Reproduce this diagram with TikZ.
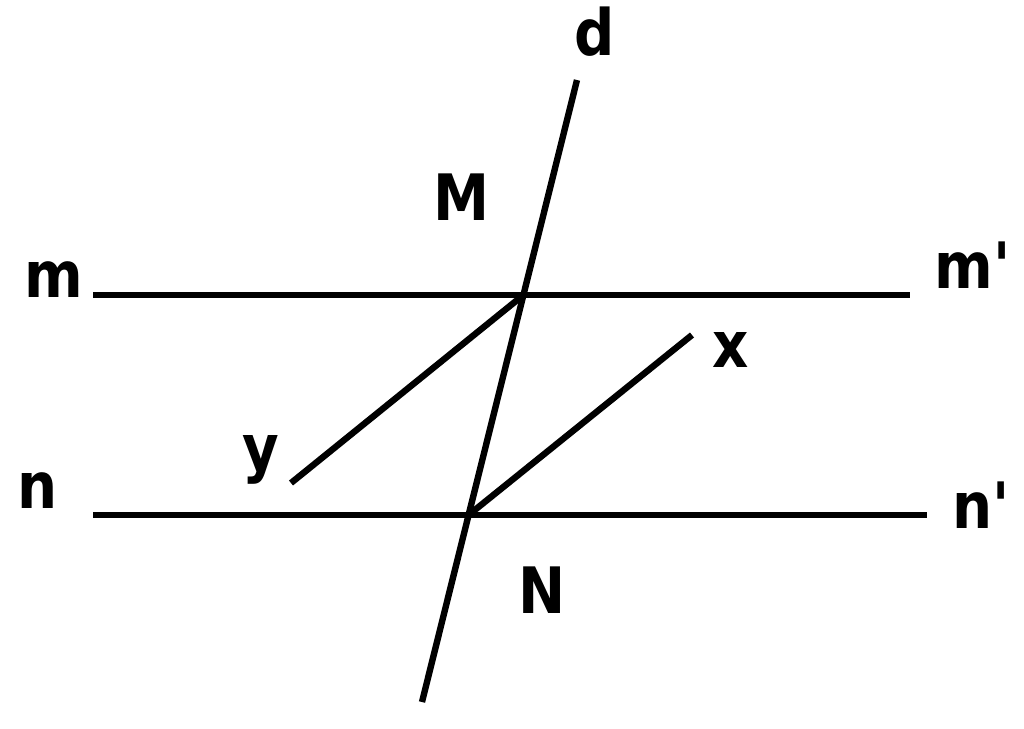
\documentclass[tikz,border=0pt]{standalone}
\usepackage{fontspec}
\setmainfont{DejaVu Sans}[FakeStretch=0.88]
\begin{document}
\begin{tikzpicture}[x=0.5pt,y=-0.5pt,
      every node/.style={inner sep=0pt,anchor=base west,font=\fontsize{32}{36}\selectfont\bfseries},
      line/.style={line width=3.2pt}]
    \useasboundingbox (0,0) rectangle (1024,729);
    \coordinate (m1) at (93,295);
    \coordinate (m2) at (910,295);
    \coordinate (n1) at (93,515);
    \coordinate (n2) at (927,515);
    \coordinate (d1) at (577,80);
    \coordinate (d2) at (422,702);
    \coordinate (M) at (523.4,295);
    \coordinate (N) at (468.6,515);
    \coordinate (y1) at (291,483);
    \coordinate (x1) at (692,335);
    \draw[line] (m1) -- (m2);
    \draw[line] (n1) -- (n2);
    \draw[line] (d1) -- (d2);
    \draw[line] (M) -- (y1);
    \draw[line] (N) -- (x1);
    \node (labm) at (24,297) {m};
    \node (labmp) at (934,288) {m\textquotesingle};
    \node (labn) at (17,508) {n};
    \node (labnp) at (952,528) {n\textquotesingle};
    \node (labd) at (574,55) {d};
    \node (labM) at (433,220) {M};
    \node (labN) at (518,613) {N};
    \node (labx) at (712,367) {x};
    \node (laby) at (242,470) {y};
\end{tikzpicture}
\end{document}
